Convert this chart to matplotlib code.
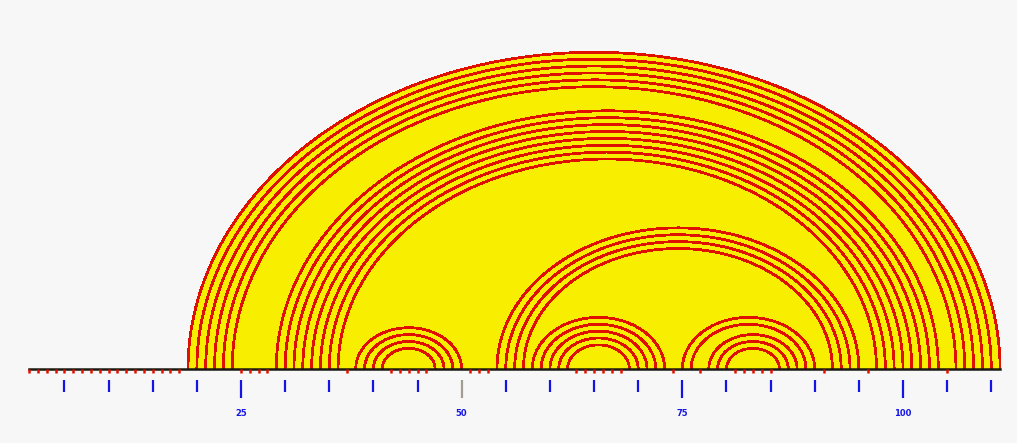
import numpy as np
import matplotlib.pyplot as plt

# sequence and base pairs (5' end position, 3' end position)
seq_len = 111
left_pos = [19, 20, 21, 22, 23, 24,
            29, 30, 31, 32, 33, 34, 35, 36,
            38, 39, 40, 41,
            54, 55, 56, 57,
            58, 59, 60, 61, 62,
            75, 76, 78, 79, 80]
right_pos = [111, 110, 109, 108, 107, 106,
             104, 103, 102, 101, 100, 99, 98, 97,
             50, 49, 48, 47,
             95, 94, 93, 92,
             73, 72, 71, 70, 69,
             90, 89, 88, 87, 86]
tick_pos = list(range(5, 111, 5))
label_pos = [25, 50, 75, 100]
tick_labels = ['25', '50', '75', '100']

W, H = 1017, 443
px = 8.827          # pixels per nucleotide
x0 = 20.3           # pixel of position 0
base_row = 369      # baseline pixel row from top
ratio = 0.78        # arc height / half width

fig = plt.figure(figsize=(W / 100, H / 100), dpi=100)
fig.patch.set_facecolor('#f7f7f8')
ax = fig.add_axes([0, 0, 1, 1])
ax.set_facecolor('#f7f7f8')
ax.set_xlim(-x0 / px, (W - x0) / px)
ax.set_ylim(-(H - base_row) / px, base_row / px)
ax.axis('off')

t = np.linspace(0, np.pi, 400)
pairs = sorted(zip(left_pos, right_pos), key=lambda p: p[0] - p[1])
for i, j in pairs:
    c = (i + j) / 2
    a = (j - i) / 2
    ax.fill(c + a * np.cos(t), a * ratio * np.sin(t),
            color='#f8ee00', lw=0, zorder=1)
for i, j in pairs:
    c = (i + j) / 2
    a = (j - i) / 2
    ax.plot(c + a * np.cos(t), a * ratio * np.sin(t), color='#e01000',
            lw=1.25, zorder=2, antialiased=False, solid_capstyle='butt')

# backbone
ax.plot([1, seq_len], [0, 0], color='#1a1a10', lw=1.8, zorder=3)

# unpaired nucleotides
paired = set(left_pos) | set(right_pos)
unpaired = [k for k in range(1, seq_len + 1) if k not in paired]
ax.vlines(unpaired, -4 / px, 0, color='#e01000', lw=1.8, zorder=3)

# position ruler
for p in tick_pos:
    long = p in label_pos
    col = '#a39c92' if p == 50 else '#1414e6'
    y_end = 398 if long else 392
    ax.vlines(p, -(380 - base_row) / px, -(y_end - base_row) / px,
              color=col, lw=1.6)
for p, s in zip(label_pos, tick_labels):
    ax.text(p, -(413 - base_row) / px, s, color='#1414e6', fontsize=6,
            fontweight='bold', ha='center', va='center')

fig.savefig('out.png', dpi=100, facecolor=fig.get_facecolor())
